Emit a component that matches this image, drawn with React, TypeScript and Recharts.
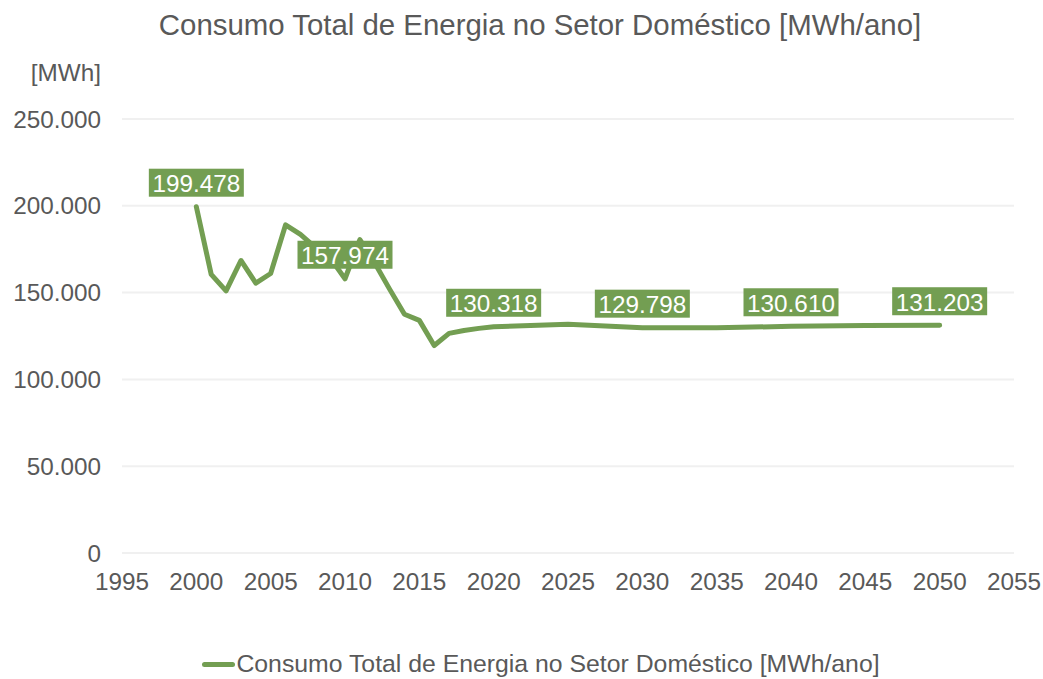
import { LineChart, Line, XAxis, YAxis, CartesianGrid, LabelList } from "recharts";

const years = [
  2000, 2001, 2002, 2003, 2004, 2005, 2006, 2007, 2008, 2009, 2010, 2011, 2012, 2013, 2014,
  2015, 2016, 2017, 2018, 2019, 2020, 2025, 2030, 2035, 2040, 2045, 2050,
];
const consumo = [
  199478, 160500, 151000, 168500, 155500, 161000, 189000, 183500, 176000, 170000, 157974,
  180500, 167000, 152000, 137500, 134000, 119500, 126500, 128200, 129400, 130318, 131800,
  129798, 129700, 130610, 131000, 131203,
];
const labeledYears = [2000, 2010, 2020, 2030, 2040, 2050];
const xTicks = [1995, 2000, 2005, 2010, 2015, 2020, 2025, 2030, 2035, 2040, 2045, 2050, 2055];
const yTicks = [0, 50000, 100000, 150000, 200000, 250000];

const seriesName = "Consumo Total de Energia no Setor Doméstico [MWh/ano]";
const green = "#739E52";
const grey = "#595959";
const font = "'Liberation Sans', Arial, sans-serif";

const data = years.map((y, i) => ({ year: y, value: consumo[i] }));

const fmt = (v: number) => v.toLocaleString("de-DE");

const ValueLabel = (props: any) => {
  const { x, y, value, index } = props;
  if (!labeledYears.includes(data[index].year)) return null;
  const w = 95;
  const h = 28;
  const cy = y - 24;
  return (
    <g>
      <rect x={x - w / 2} y={cy - h / 2} width={w} height={h} fill={green} />
      <text
        x={x}
        y={cy + 1}
        textAnchor="middle"
        dominantBaseline="central"
        fill="#fff"
        fontSize={24.3}
        fontFamily={font}
      >
        {fmt(value)}
      </text>
    </g>
  );
};

export default function App() {
  return (
    <div style={{ position: "absolute", left: 0, top: 0, width: 1043, height: 679, background: "#fff", fontFamily: font }}>
      <div style={{ position: "absolute", top: 8, left: 0, width: 1080, textAlign: "center", fontSize: 29.4, color: grey }}>
        {seriesName}
      </div>
      <div style={{ position: "absolute", top: 59, left: 0, width: 101, textAlign: "right", fontSize: 24.3, color: grey }}>
        [MWh]
      </div>
      <LineChart width={1043} height={679} data={data} margin={{ top: 119, right: 29, bottom: 86, left: 0 }}>
        <CartesianGrid horizontal vertical={false} stroke="#F0F0F0" strokeWidth={2} />
        <XAxis
          dataKey="year"
          type="number"
          domain={[1995, 2055]}
          ticks={xTicks}
          axisLine={false}
          tickLine={false}
          tickSize={0}
          tickMargin={20}
          height={40}
          tick={{ fill: grey, fontSize: 24.3, fontFamily: font }}
        />
        <YAxis
          domain={[0, 250000]}
          ticks={yTicks}
          width={122}
          axisLine={false}
          tickLine={false}
          tickSize={0}
          tickMargin={21}
          tickFormatter={(v: number) => fmt(v)}
          tick={{ fill: grey, fontSize: 24.3, fontFamily: font }}
        />
        <Line
          dataKey="value"
          name={seriesName}
          stroke={green}
          strokeWidth={5}
          dot={false}
          strokeLinejoin="round"
          strokeLinecap="round"
          isAnimationActive={false}
        >
          <LabelList dataKey="value" content={ValueLabel} />
        </Line>
      </LineChart>
      <div style={{ position: "absolute", top: 650, left: 0, width: 1082, display: "flex", justifyContent: "center", alignItems: "center", fontSize: 24.8, color: grey }}>
        <span style={{ display: "inline-block", width: 33, height: 5, background: green, borderRadius: 3, marginRight: 1 }} />
        <span>{seriesName}</span>
      </div>
    </div>
  );
}
